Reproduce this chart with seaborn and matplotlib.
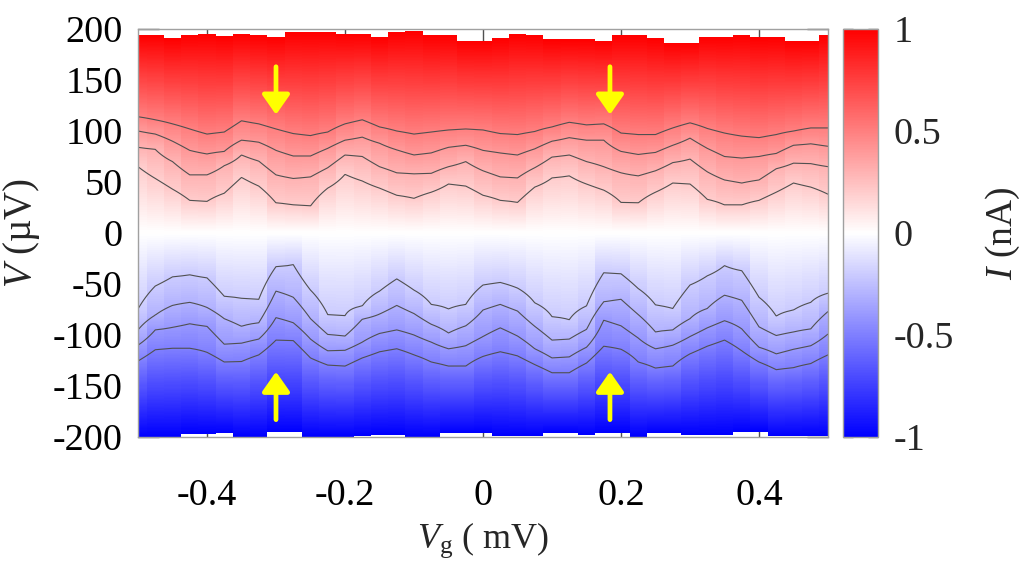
import numpy as np
import matplotlib
matplotlib.use("Agg")
import matplotlib.pyplot as plt
import seaborn as sns

# gate voltage of each sweep column (mV)
vg = np.linspace(-0.5, 0.5, 41)

# bias window actually measured in each column (uV)
v_top = [194, 194, 191, 194, 195, 193, 195, 194, 192.5, 197, 197, 197, 195, 195, 192.5, 197, 198,
         194, 194, 188.5, 188.5, 191, 195, 194, 190, 190, 190, 188.5, 194, 194, 191, 186.5, 186.5,
         192.5, 192.5, 194, 192, 192, 188.5, 188.5, 194]
v_bottom = [-200, -200, -200, -197, -197, -196.5, -200, -200, -195.5, -195.5, -200, -200, -200, -199,
            -198, -198, -200, -200, -196.5, -196.5, -196.5, -199, -199, -199, -196.5, -196.5, -198,
            -196, -196, -200, -196.5, -196.5, -198, -198, -198, -195, -195, -199.5, -199.5, -199.5, -199.5]

# bias (uV) at which the current reaches each contour level, per column
v_p05 = [114, 111, 107, 102, 97, 99, 110, 107, 102, 97.5, 95.5, 99, 107, 111, 104, 100, 97, 99, 101, 102,
         101, 97.5, 96.5, 99.5, 104, 108.5, 106, 107, 98, 96.5, 96.5, 103, 108, 102.5, 98, 95, 93.5, 96.5,
         100, 103, 103]
v_p04 = [100, 97, 90, 81, 77.5, 80, 91, 89, 81, 75.5, 75.5, 83, 91, 94, 88, 81.5, 76.5, 78.5, 84, 86,
         81, 78.5, 76.5, 82.5, 90, 93.5, 91, 91, 80, 77, 79, 86, 93, 83, 75, 73.5, 75, 78, 86, 87.5, 85]
v_p03 = [84, 82, 70, 57, 57, 66, 76.5, 70.5, 57, 53.5, 55, 64, 76.5, 75, 65, 59, 58, 58.5, 65, 70,
         61, 55, 54, 64, 74.5, 76.5, 70, 65, 59, 56, 61, 69, 72.5, 60, 52, 49, 52, 63, 68.5, 68, 65]
v_p02 = [65, 53.5, 43, 32, 31, 39, 54.5, 46, 29.5, 27.5, 26.5, 44, 57.5, 51, 44, 37, 34, 40, 48, 46,
         37, 32, 30, 45, 54, 56, 48, 42, 30, 29.5, 40, 49, 48, 33, 27.5, 27.5, 32, 40, 49, 45, 38]
v_m02 = [-74.5, -52, -43, -41, -44, -62, -64, -65, -33, -31, -56, -80, -81, -71.5, -57, -45, -56, -70,
         -74.5, -70, -51, -48.5, -54, -68.5, -82, -85, -71.5, -39, -40, -54.5, -70.5, -74, -51, -42, -32,
         -37, -63, -81.5, -75.5, -68, -59]
v_m03 = [-95, -80.5, -71, -68, -73, -84, -91.5, -88, -57, -63, -84, -99.5, -101, -84.5, -79.5, -71, -79,
         -89.5, -98, -91, -75.5, -70, -76.5, -91.5, -105, -104, -94.5, -67.5, -65, -80, -97, -95, -84,
         -74, -61, -66, -92, -100.5, -97, -94, -77]
v_m04 = [-110, -95, -92.5, -89, -91.5, -109, -108, -104, -83, -88, -104, -115.5, -115, -107, -98.5, -95,
         -100, -107, -113.5, -110.5, -101.5, -93, -101, -113.5, -122.5, -121.5, -112, -85.5, -91, -103,
         -113.5, -110, -101.5, -93, -86, -94, -112, -118.5, -114, -110.5, -99]
v_m05 = [-125.5, -114.5, -113, -113, -117, -126.5, -126, -119.5, -105, -105.5, -122.5, -129.5, -130.5,
         -122.5, -116.5, -113.5, -119.5, -126.5, -130.5, -130.5, -121, -116.5, -120.5, -129, -137, -137,
         -127.5, -111, -114, -126.5, -132.5, -130.5, -118.5, -111, -105, -115.5, -126.5, -134, -132,
         -128, -119.5]

levels = [-0.5, -0.4, -0.3, -0.2, 0.2, 0.3, 0.4, 0.5]
edge_current = [-1, 1]

# yellow markers: gate voltage, bias where the arrow starts and where it points
arrow_vg = [-0.3, 0.184]
arrow_down = [163, 116]
arrow_up = [-183, -136]

sns.set_theme(style="ticks")
plt.rcParams["font.family"] = ["Liberation Serif", "DejaVu Serif"]
plt.rcParams["mathtext.fontset"] = "custom"
plt.rcParams["mathtext.rm"] = "Liberation Serif"
plt.rcParams["mathtext.it"] = "Liberation Serif:italic"
plt.rcParams["axes.unicode_minus"] = False

# current map built from the contour positions, column by column
v = np.arange(-200, 200.5, 1.0)
cur = np.full((len(v), len(vg)), np.nan)
for j in range(len(vg)):
    xp = [v_bottom[j], v_m05[j], v_m04[j], v_m03[j], v_m02[j], 0,
          v_p02[j], v_p03[j], v_p04[j], v_p05[j], v_top[j]]
    fp = [edge_current[0]] + levels[:4] + [0] + levels[4:] + [edge_current[1]]
    inside = (v >= v_bottom[j]) & (v <= v_top[j])
    cur[inside, j] = np.interp(v[inside], xp, fp)

fig = plt.figure(figsize=(10.24, 5.64), dpi=100)
ax = fig.add_axes([138 / 1024, 1 - 437 / 564, 690 / 1024, 408 / 564])
cax = fig.add_axes([843 / 1024, 1 - 437 / 564, 35 / 1024, 408 / 564])

cmap = sns.color_palette("bwr", as_cmap=True)
mesh = ax.pcolormesh(vg, v, cur, shading="nearest", cmap=cmap, vmin=-1, vmax=1)
ax.contour(vg, v, cur, levels=levels, colors="#505050", linewidths=0.8, linestyles="solid")

head = "-|>,head_length=0.6,head_width=0.42"
for x in arrow_vg:
    for start, end in (arrow_down, arrow_up):
        ax.annotate("", xy=(x, end), xytext=(x, start),
                    arrowprops=dict(arrowstyle=head, color="#ffff00", lw=3.4,
                                    shrinkA=0, shrinkB=0, mutation_scale=20))

ax.set_xlim(-0.5, 0.5)
ax.set_ylim(-200, 200)
ax.set_xticks([-0.4, -0.2, 0, 0.2, 0.4])
ax.set_xticklabels(["-0.4", "-0.2", "0", "0.2", "0.4"])
ax.set_yticks(range(-200, 201, 50))
ax.set_yticklabels([str(t) for t in range(-200, 201, 50)])
ax.tick_params(direction="in", length=15, width=1, color="#505050", top=True, right=True,
               labelsize=27.5, labelcolor="black")
ax.tick_params(axis="x", pad=30)
ax.tick_params(axis="y", pad=11)
for s in ax.spines.values():
    s.set_color("#a0a0a0")
    s.set_linewidth(1)

cb = fig.colorbar(mesh, cax=cax, ticks=[-1, -0.5, 0, 0.5, 1])
cb.set_ticklabels(["-1", "-0.5", "0", "0.5", "1"])
cb.outline.set_edgecolor("#a0a0a0")
cb.outline.set_linewidth(1)
cax.tick_params(direction="in", length=7, width=1, color="#505050", left=True, right=True,
                labelsize=27.5, pad=11)

fig.text(22 / 1024, 1 - 233 / 564, r"$V$ (µV)", rotation=90, ha="center", va="center", fontsize=28)
fig.text(483 / 1024, 1 - 540 / 564, r"$V_{\rm g}$ ( mV)", ha="center", va="center", fontsize=26)
fig.text(1003 / 1024, 1 - 233 / 564, r"$I$ (nA)", rotation=90, ha="center", va="center", fontsize=27)

fig.savefig("out.png", dpi=100)
